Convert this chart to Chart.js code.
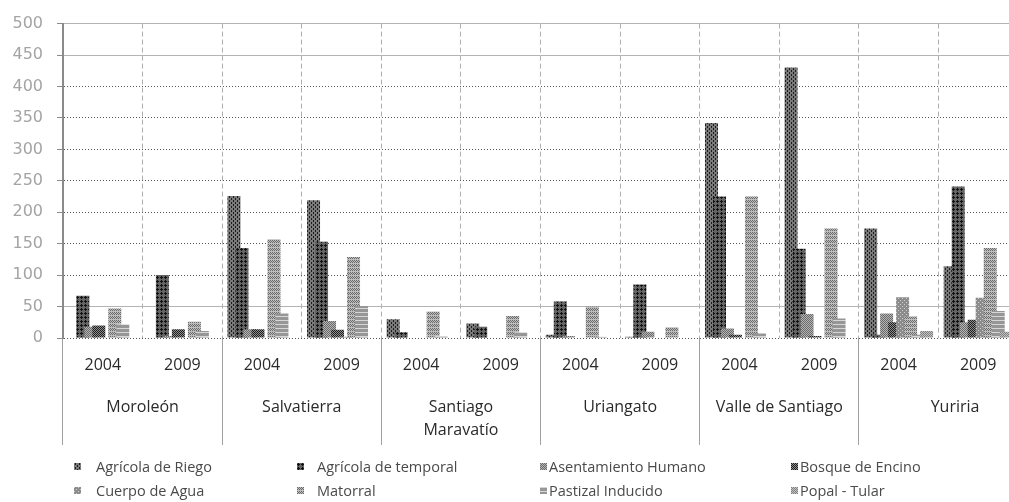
<!DOCTYPE html>
<html>
<head>
<meta charset="utf-8">
<script src="https://cdn.jsdelivr.net/npm/chart.js@4.4.0/dist/chart.umd.min.js"></script>
<style>
  html, body { margin: 0; padding: 0; background: #fff; overflow: hidden; }
  #wrap { position: relative; width: 1009px; height: 502px; overflow: hidden; }
  #chartBox { position: absolute; left: 0; top: 0; width: 1020px; height: 445px; }
  #legend { position: absolute; left: 0; top: 0; width: 1009px; height: 502px; font-family: 'Open Sans', sans-serif; font-size: 14.5px; color: #4a4a4a; pointer-events: none; }
  .item { position: absolute; white-space: nowrap; line-height: 20px; }
  .item canvas { position: absolute; top: 6px; }
</style>
</head>
<body>
<div id="wrap">
  <div id="chartBox"><canvas id="landUse" width="1020" height="445"></canvas></div>
  <div id="legend"></div>
</div>
<script>
// Categories: year inside each municipality
const years = ['2004', '2009', '2004', '2009', '2004', '2009', '2004', '2009', '2004', '2009', '2004', '2009'];
const municipalities = ['Moroleón', 'Salvatierra', ['Santiago', 'Maravatío'], 'Uriangato', 'Valle de Santiago', 'Yuriria'];

const seriesNames = [
  'Agrícola de Riego', 'Agrícola de temporal', 'Asentamiento Humano', 'Bosque de Encino',
  'Cuerpo de Agua', 'Matorral', 'Pastizal Inducido', 'Popal - Tular'
];

// values (one per category above)
const agricolaRiego    = [0, 0, 226, 219, 30, 23, 5, 2, 342, 430, 174, 114];
const agricolaTemporal = [67, 100, 143, 153, 9, 18, 58, 85, 225, 142, 5, 241];
const asentamiento     = [18, 3, 14, 27, 0, 0, 3, 10, 15, 38, 39, 25];
const bosqueEncino     = [20, 14, 14, 13, 0, 0, 0, 0, 5, 3, 25, 29];
const cuerpoAgua       = [0, 0, 0, 2, 0, 0, 0, 0, 0, 0, 65, 64];
const matorral         = [47, 26, 157, 129, 42, 35, 50, 17, 225, 174, 34, 143];
const pastizal         = [22, 11, 39, 51, 3, 9, 2, 0, 7, 31, 5, 43];
const popalTular       = [0, 0, 0, 0, 0, 0, 0, 0, 0, 0, 11, 10];

const yMin = 0, yMax = 500, yStep = 50;
const solidGridValues = [50, 450, 500]; // these grid lines look solid in the picture

const seriesValues = [agricolaRiego, agricolaTemporal, asentamiento, bosqueEncino,
  cuerpoAgua, matorral, pastizal, popalTular];

// Grey fill patterns, one per series (small repeating tiles)
const patternSpecs = [
  { bg: '#7a7a7a', fg: '#1c1c1c', size: 4, dots: [[1, 0], [1, 1], [3, 2], [3, 3]] },
  { bg: '#646464', fg: '#111', size: 4, dots: [[1, 0], [0, 1], [1, 1], [2, 1], [1, 2]] },
  { bg: '#b4b4b4', fg: '#6a6a6a', size: 2, dots: [[0, 0], [1, 1]] },
  { bg: '#8e8e8e', fg: '#1e1e1e', size: 2, dots: [[0, 0], [1, 1]] },
  { bg: '#8c8c8c', fg: '#cfcfcf', size: 4, dots: [[0, 0], [2, 2]] },
  { bg: '#bdbdbd', fg: '#6a6a6a', size: 4, dots: [[0, 0], [1, 1], [2, 0], [3, 1], [0, 2], [2, 2]] },
  { bg: '#969696', fg: '#d6d6d6', size: 4, dots: [[0, 0], [1, 0], [2, 0], [3, 0]] },
  { bg: '#c2c2c2', fg: '#808080', size: 2, dots: [[0, 0], [1, 1]] }
];

function makePattern(spec) {
  const tile = document.createElement('canvas');
  tile.width = tile.height = spec.size;
  const g = tile.getContext('2d');
  g.fillStyle = spec.bg;
  g.fillRect(0, 0, spec.size, spec.size);
  g.fillStyle = spec.fg;
  spec.dots.forEach(([x, y]) => g.fillRect(x, y, 1, 1));
  return g.createPattern(tile, 'repeat');
}

const patterns = patternSpecs.map(makePattern);

// Excel draws later series over earlier ones; Chart.js does the opposite,
// so draw the dataset controllers ourselves in index order.
const drawInSeriesOrder = {
  id: 'drawInSeriesOrder',
  beforeDatasetsDraw(chart) {
    const ctx = chart.ctx, a = chart.chartArea;
    ctx.save();
    ctx.beginPath();
    ctx.rect(a.left, a.top, a.right - a.left, a.bottom - a.top);
    ctx.clip();
    chart.getSortedVisibleDatasetMetas().forEach(meta => meta.controller.draw());
    ctx.restore();
    return false;
  }
};

const labelFont = { family: "'Open Sans', sans-serif", size: 16 };

new Chart(document.getElementById('landUse'), {
  type: 'bar',
  data: {
    labels: years,
    datasets: seriesNames.map((name, i) => ({
      label: name,
      data: seriesValues[i],
      backgroundColor: patterns[i],
      borderWidth: 0,
      xAxisID: 'x',
      yAxisID: 'y'
    }))
  },
  options: {
    responsive: false,
    animation: false,
    datasets: { bar: { barPercentage: 1.625, categoryPercentage: 0.804 } },
    layout: { padding: { top: 17, right: 2, left: 0, bottom: 0 } },
    plugins: { legend: { display: false }, tooltip: { enabled: false } },
    scales: {
      x: {
        axis: 'x',
        position: 'bottom',
        offset: true,
        grid: {
          offset: true,
          color: ctx => ctx.index === 0 ? 'transparent' : '#b0b0b0',
          lineWidth: 1,
          tickLength: 107,
          tickWidth: 1,
          tickColor: ctx => ctx.index % 2 === 0 ? '#a0a0a0' : 'transparent'
        },
        border: { display: false, dash: [5, 3] },
        ticks: { autoSkip: false, maxRotation: 0, padding: -89, color: '#2a2a2a', font: labelFont },
        afterFit: s => { s.height = 52; }
      },
      x2: {
        axis: 'x',
        type: 'category',
        position: 'bottom',
        labels: municipalities,
        offset: true,
        grid: { display: false },
        border: { display: false },
        ticks: {
          autoSkip: false, maxRotation: 0, padding: -2.5, color: '#2a2a2a',
          font: { family: "'Open Sans', sans-serif", size: 16, lineHeight: 1.45 },
          // the last group is cut by the picture edge; its label sits a bit right of centre
          callback: function (value, index, ticks) {
            const label = this.getLabelForValue(value);
            return index === ticks.length - 1 ? '        ' + label : label;
          }
        },
        afterFit: s => { s.height = 55; }
      },
      y: {
        axis: 'y',
        position: 'left',
        min: yMin,
        max: yMax,
        ticks: { stepSize: yStep, padding: 14, color: '#a4a4a4', font: { family: "'DejaVu Sans', sans-serif", size: 16 } },
        grid: {
          color: ctx => (ctx.tick && solidGridValues.includes(ctx.tick.value)) ? 'transparent' : '#555',
          lineWidth: 1,
          tickLength: 6,
          tickColor: '#8a8a8a'
        },
        border: { display: true, color: '#8a8a8a', width: 2, dash: [1, 2] },
        afterFit: s => { s.width = 63; }
      },
      y2: {
        axis: 'y',
        position: 'right',
        min: yMin,
        max: yMax,
        ticks: { stepSize: yStep, display: false },
        grid: {
          color: ctx => (ctx.tick && solidGridValues.includes(ctx.tick.value)) ? '#b4b4b4' : 'transparent',
          lineWidth: 1,
          drawTicks: false
        },
        border: { display: false },
        afterFit: s => { s.width = 0; }
      }
    }
  },
  plugins: [drawInSeriesOrder]
});

// Legend: 4 columns x 2 rows, like the original
const legendCols = [{ box: 74, text: 96 }, { box: 297, text: 317 }, { box: 540, text: 549 }, { box: 791, text: 800 }];
const legendRows = [457, 481];
const legend = document.getElementById('legend');
seriesNames.forEach((name, i) => {
  const col = legendCols[i % 4], row = legendRows[Math.floor(i / 4)];
  const item = document.createElement('div');
  item.className = 'item';
  item.style.left = col.box + 'px';
  item.style.top = row + 'px';
  const sw = document.createElement('canvas');
  sw.width = 7; sw.height = 7;
  const g = sw.getContext('2d');
  g.fillStyle = patterns[i];
  g.fillRect(0, 0, 7, 7);
  sw.style.left = '0px';
  item.appendChild(sw);
  const span = document.createElement('span');
  span.textContent = name;
  span.style.position = 'absolute';
  span.style.left = (col.text - col.box) + 'px';
  item.appendChild(span);
  legend.appendChild(item);
});
</script>
</body>
</html>
